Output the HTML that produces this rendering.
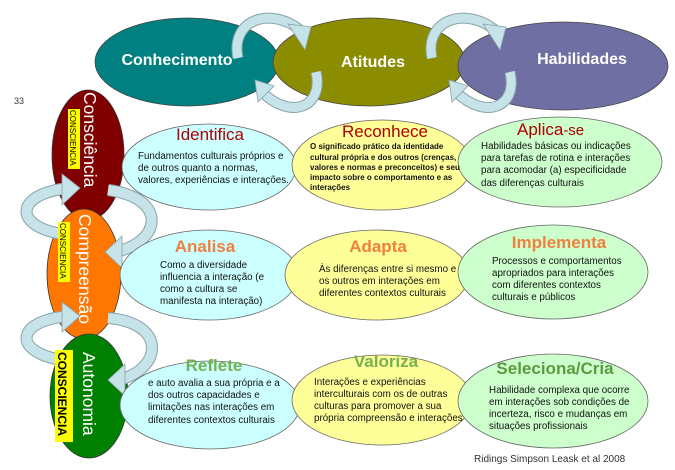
<!DOCTYPE html>
<html><head><meta charset="utf-8"><style>
html,body{margin:0;padding:0;background:#fff}
svg{display:block}
text{font-family:"Liberation Sans",Arial,sans-serif}
.b{font-size:9.8px;fill:#111}
</style></head><body>
<svg width="675" height="470" viewBox="0 0 675 470" xmlns="http://www.w3.org/2000/svg">
<!-- top ellipses -->
<ellipse cx="187" cy="62" rx="92" ry="44" fill="#008080" stroke="#444" stroke-width="0.8"/>
<ellipse cx="369" cy="62" rx="96" ry="44" fill="#8c8c00" stroke="#444" stroke-width="0.8"/>
<ellipse cx="563" cy="66" rx="105" ry="44" fill="#6f6fa3" stroke="#444" stroke-width="0.8"/>
<text x="177" y="65" font-size="16" font-weight="bold" fill="#fff" text-anchor="middle">Conhecimento</text>
<text x="373" y="67" font-size="16" font-weight="bold" fill="#fff" text-anchor="middle">Atitudes</text>
<text x="582" y="64" font-size="16" font-weight="bold" fill="#fff" text-anchor="middle">Habilidades</text>
<!-- top arrows -->
<g fill="none" stroke-linecap="butt">
<path d="M238,58 C230,20 270,6 300,30" stroke="#8aa3a8" stroke-width="11"/>
<path d="M238,58 C230,20 270,6 300,30" stroke="#c5e3e8" stroke-width="9"/>
<path d="M316,72 C324,108 290,120 262,92" stroke="#8aa3a8" stroke-width="11"/>
<path d="M316,72 C324,108 290,120 262,92" stroke="#c5e3e8" stroke-width="9"/>
<path d="M432,58 C424,20 465,6 495,30" stroke="#8aa3a8" stroke-width="11"/>
<path d="M432,58 C424,20 465,6 495,30" stroke="#c5e3e8" stroke-width="9"/>
<path d="M510,72 C518,108 485,120 456,92" stroke="#8aa3a8" stroke-width="11"/>
<path d="M510,72 C518,108 485,120 456,92" stroke="#c5e3e8" stroke-width="9"/>
</g>
<g fill="#c5e3e8" stroke="#8aa3a8" stroke-width="0.8">
<polygon points="288,24 311,27 305,50"/>
<polygon points="274,86 255,80 258,102"/>
<polygon points="483,24 506,27 500,50"/>
<polygon points="468,86 449,80 452,102"/>
</g>
<text x="14" y="104" font-size="9" fill="#333">33</text>
<!-- left ellipses -->
<ellipse cx="88" cy="155" rx="36" ry="65" fill="#800000" stroke="#333" stroke-width="0.8"/>
<ellipse cx="84" cy="274" rx="37" ry="65" fill="#ff7700" stroke="#333" stroke-width="0.8"/>
<ellipse cx="89" cy="396" rx="39" ry="62" fill="#008000" stroke="#333" stroke-width="0.8"/>
<!-- left arrows -->
<g fill="none">
<path d="M62,234 C12,226 15,193 70,188" stroke="#8aa3a8" stroke-width="12"/>
<path d="M62,234 C12,226 15,193 70,188" stroke="#c5e3e8" stroke-width="10"/>
<path d="M108,190 C168,198 162,242 115,252" stroke="#8aa3a8" stroke-width="12"/>
<path d="M108,190 C168,198 162,242 115,252" stroke="#c5e3e8" stroke-width="10"/>
<path d="M62,360 C12,352 15,320 70,316" stroke="#8aa3a8" stroke-width="12"/>
<path d="M62,360 C12,352 15,320 70,316" stroke="#c5e3e8" stroke-width="10"/>
<path d="M108,318 C168,323 162,370 118,380" stroke="#8aa3a8" stroke-width="12"/>
<path d="M108,318 C168,323 162,370 118,380" stroke="#c5e3e8" stroke-width="10"/>
</g>
<g fill="#c5e3e8" stroke="#8aa3a8" stroke-width="0.8">
<polygon points="62,174 80,188 62,205"/>
<polygon points="122,236 105,252 122,268"/>
<polygon points="62,302 80,316 62,332"/>
<polygon points="125,364 108,380 125,396"/>
</g>
<!-- vertical labels -->
<text transform="translate(84,92) rotate(90)" font-size="17.5" fill="#fff">Consciência</text>
<text transform="translate(79,214) rotate(90)" font-size="17.5" fill="#fff">Compreensão</text>
<text transform="translate(83,352) rotate(90)" font-size="17.5" fill="#fff">Autonomia</text>
<rect x="68" y="109" width="12" height="60" fill="#ffff00"/>
<text transform="translate(70,110) rotate(90)" font-size="8" fill="#000">CONSCIENCIA</text>
<rect x="58" y="222" width="12" height="60" fill="#ffff00"/>
<text transform="translate(60,223) rotate(90)" font-size="8" fill="#000">CONSCIENCIA</text>
<rect x="55" y="350" width="18" height="92" fill="#ffff00"/>
<text transform="translate(58,352) rotate(90)" font-size="12" font-weight="bold" fill="#000">CONSCIENCIA</text>
<!-- row 1 -->
<ellipse cx="209" cy="167" rx="87" ry="43" fill="#ccffff" stroke="#666" stroke-width="0.8"/>
<ellipse cx="382" cy="165" rx="90" ry="45" fill="#ffff99" stroke="#666" stroke-width="0.8"/>
<ellipse cx="560" cy="162" rx="102" ry="45" fill="#ccffcc" stroke="#666" stroke-width="0.8"/>
<text x="210" y="140" font-size="17" fill="#b00000" text-anchor="middle">Identifica</text>
<text class="b" x="138" y="159">Fundamentos culturais próprios e</text>
<text class="b" x="138" y="171">de outros quanto a normas,</text>
<text class="b" x="138" y="183">valores, experiências e interações.</text>
<text x="385" y="137" font-size="17" fill="#b00000" text-anchor="middle">Reconhece</text>
<text font-size="8" fill="#111" font-weight="bold"><tspan x="310" y="149">O significado prático da identidade</tspan><tspan x="310" y="160">cultural própria e dos outros (crenças,</tspan><tspan x="310" y="170">valores e normas e preconceitos) e seu</tspan><tspan x="310" y="180">impacto sobre o comportamento e as</tspan><tspan x="310" y="190">interações</tspan></text>
<text x="517" y="135" font-size="17" fill="#b00000">Aplica<tspan font-size="15">-se</tspan></text>
<text class="b"><tspan x="481" y="149">Habilidades básicas ou indicações</tspan><tspan x="481" y="161">para tarefas de rotina e interações</tspan><tspan x="481" y="173">para acomodar (a) especificidade</tspan><tspan x="481" y="186">das diferenças culturais</tspan></text>
<!-- row 2 -->
<ellipse cx="209" cy="275" rx="89" ry="45" fill="#ccffff" stroke="#666" stroke-width="0.8"/>
<ellipse cx="377" cy="275" rx="92" ry="45" fill="#ffff99" stroke="#666" stroke-width="0.8"/>
<ellipse cx="553" cy="272" rx="95" ry="47" fill="#ccffcc" stroke="#666" stroke-width="0.8"/>
<text x="205" y="252" font-size="17" font-weight="bold" fill="#f08040" text-anchor="middle">Analisa</text>
<text class="b"><tspan x="160" y="268">Como a diversidade</tspan><tspan x="160" y="280">influencia a interação (e</tspan><tspan x="160" y="292">como a cultura se</tspan><tspan x="160" y="304">manifesta na interação)</tspan></text>
<text x="378" y="252" font-size="17" font-weight="bold" fill="#f08040" text-anchor="middle">Adapta</text>
<text class="b"><tspan x="319" y="272">Às diferenças entre si mesmo e</tspan><tspan x="319" y="284">os outros em interações em</tspan><tspan x="319" y="296">diferentes contextos culturais</tspan></text>
<text x="559" y="248" font-size="17" font-weight="bold" fill="#f08040" text-anchor="middle">Implementa</text>
<text class="b"><tspan x="492" y="264">Processos e comportamentos</tspan><tspan x="492" y="276">apropriados para interações</tspan><tspan x="492" y="288">com diferentes contextos</tspan><tspan x="492" y="300">culturais e públicos</tspan></text>
<!-- row 3 -->
<ellipse cx="210" cy="405" rx="90" ry="44" fill="#ccffff" stroke="#666" stroke-width="0.8"/>
<ellipse cx="382" cy="400" rx="90" ry="45" fill="#ffff99" stroke="#666" stroke-width="0.8"/>
<ellipse cx="553" cy="401" rx="95" ry="47" fill="#ccffcc" stroke="#666" stroke-width="0.8"/>
<text x="214" y="371" font-size="17" font-weight="bold" fill="#77b050" text-anchor="middle">Reflete</text>
<text class="b"><tspan x="148" y="386">e auto avalia a sua própria e a</tspan><tspan x="148" y="398">dos outros capacidades e</tspan><tspan x="148" y="410">limitações nas interações em</tspan><tspan x="148" y="423">diferentes contextos culturais</tspan></text>
<text x="386" y="367" font-size="17" font-weight="bold" fill="#77b050" text-anchor="middle">Valoriza</text>
<text class="b"><tspan x="314" y="385">Interações e experiências</tspan><tspan x="314" y="397">interculturais com os de outras</tspan><tspan x="314" y="409">culturas para promover a sua</tspan><tspan x="314" y="421">própria compreensão e interações</tspan></text>
<text x="555" y="374" font-size="17" font-weight="bold" fill="#5a9a40" text-anchor="middle">Seleciona/Cria</text>
<text class="b"><tspan x="489" y="393">Habilidade complexa que ocorre</tspan><tspan x="489" y="405">em interações sob condições de</tspan><tspan x="489" y="417">incerteza, risco e mudanças em</tspan><tspan x="489" y="429">situações  profissionais</tspan></text>
<text x="474" y="462" font-size="10" fill="#333">Ridings Simpson Leask et al 2008</text>
</svg>
</body></html>
